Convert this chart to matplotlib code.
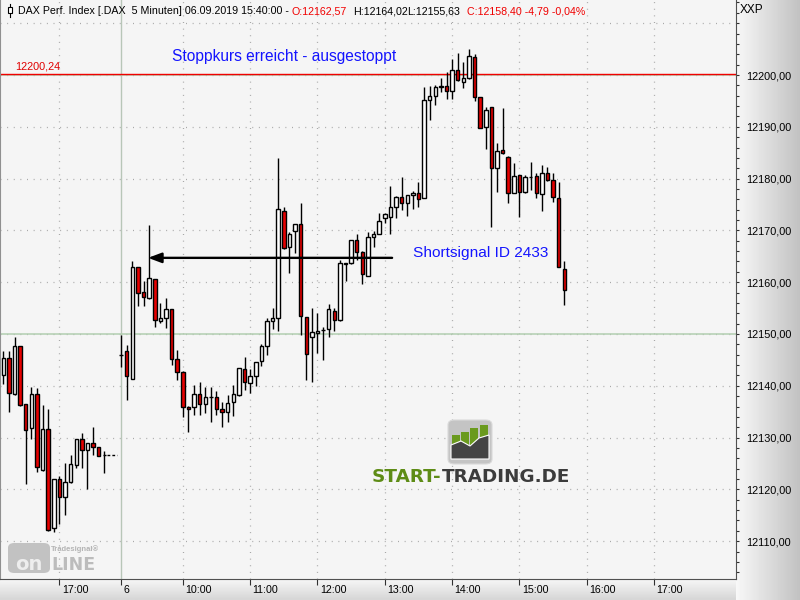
import numpy as np
import matplotlib.pyplot as plt
from matplotlib.patches import Rectangle, FancyBboxPatch
from matplotlib.transforms import ScaledTranslation

plt.rcParams['font.family'] = ['Liberation Sans', 'DejaVu Sans']

# DAX 5-Minuten-Kerzen, Vortag (Slots 0..18) und 06.09.2019 (ab Slot 21)
slots = list(range(0, 19)) + list(range(21, 101))

opens = [12142.1, 12145.3, 12138.5, 12147.7, 12136.4, 12131.8, 12138.5, 12123.7, 12131.7, 12112.5,
         12122.1, 12118.6, 12121.5, 12124.7, 12129.7, 12127.7, 12128.9, 12128.1, 12126.6,
         12145.9, 12146.8, 12141.4, 12162.9, 12158.2, 12156.9, 12160.6, 12152.6, 12153.0, 12154.8,
         12145.1, 12142.7, 12136.0, 12135.9, 12138.4, 12136.4, 12137.8, 12137.8, 12135.5, 12135.0,
         12136.9, 12138.2, 12143.2, 12140.6, 12141.8, 12144.7, 12147.7, 12152.5, 12153.0, 12173.8,
         12166.7, 12169.9, 12171.2, 12153.2, 12149.4, 12150.1, 12150.7, 12150.9, 12154.5, 12152.7,
         12163.6, 12163.7, 12168.2, 12165.9, 12161.2, 12168.8, 12169.4, 12172.3, 12172.6, 12174.6,
         12176.5, 12175.2, 12176.9, 12177.3, 12176.3, 12195.2, 12195.9, 12197.6, 12197.9, 12197.0,
         12201.0, 12198.7, 12199.4, 12203.4, 12195.7, 12189.9, 12193.8, 12182.0, 12185.5, 12184.2,
         12177.3, 12180.6, 12177.5, 12180.4, 12180.5, 12177.0, 12181.0, 12179.7, 12176.2, 12162.57]
highs = [12146.7, 12146.7, 12149.5, 12147.7, 12136.4, 12139.8, 12139.5, 12136.3, 12135.5, 12122.1,
         12122.5, 12125.0, 12126.6, 12129.8, 12130.9, 12129.0, 12132.0, 12128.2, 12127.4,
         12149.8, 12147.9, 12164.0, 12163.0, 12160.2, 12171.0, 12160.7, 12155.9, 12156.9, 12154.9,
         12146.9, 12142.8, 12136.1, 12140.2, 12140.7, 12139.8, 12139.8, 12138.9, 12136.9, 12138.2,
         12140.2, 12143.5, 12145.6, 12143.2, 12144.6, 12148.1, 12153.0, 12155.0, 12184.0, 12174.5,
         12169.7, 12171.3, 12175.2, 12153.3, 12155.0, 12154.0, 12151.4, 12155.8, 12155.0, 12164.3,
         12163.8, 12168.2, 12169.3, 12166.0, 12169.6, 12169.9, 12173.3, 12173.4, 12178.6, 12176.6,
         12180.4, 12176.9, 12177.6, 12179.4, 12197.7, 12197.9, 12198.1, 12199.4, 12200.6, 12203.0,
         12204.3, 12202.6, 12205.0, 12204.1, 12195.8, 12193.8, 12193.9, 12186.8, 12193.6, 12184.3,
         12183.0, 12180.7, 12180.7, 12183.3, 12181.1, 12182.6, 12182.3, 12181.0, 12179.4, 12164.02]
lows = [12140.3, 12135.0, 12138.3, 12136.1, 12121.0, 12129.8, 12123.4, 12123.5, 12112.0, 12111.7,
        12113.3, 12115.1, 12121.3, 12124.1, 12124.1, 12120.1, 12126.6, 12126.4, 12123.2,
        12143.6, 12137.3, 12141.3, 12155.4, 12155.4, 12156.8, 12151.3, 12152.2, 12151.1, 12144.0,
        12141.1, 12134.0, 12131.1, 12134.4, 12134.4, 12134.7, 12133.1, 12134.4, 12132.1, 12133.1,
        12134.2, 12138.1, 12139.2, 12138.6, 12140.0, 12143.8, 12146.0, 12150.9, 12150.6, 12166.5,
        12161.8, 12165.7, 12149.8, 12141.1, 12140.8, 12146.3, 12145.0, 12149.4, 12150.6, 12152.6,
        12160.3, 12163.6, 12164.3, 12159.7, 12161.1, 12166.7, 12169.3, 12171.4, 12169.4, 12172.3,
        12174.0, 12172.8, 12174.1, 12174.6, 12176.2, 12191.3, 12194.2, 12196.8, 12195.3, 12195.3,
        12198.9, 12197.4, 12199.3, 12194.9, 12189.7, 12185.7, 12170.6, 12177.5, 12184.8, 12175.2,
        12177.2, 12172.6, 12177.3, 12177.8, 12176.2, 12173.8, 12179.6, 12175.5, 12162.9, 12155.63]
closes = [12145.3, 12138.7, 12147.7, 12136.3, 12131.5, 12138.5, 12124.3, 12131.7, 12112.2, 12122.0,
          12118.6, 12121.4, 12124.9, 12129.7, 12127.7, 12128.9, 12128.2, 12126.5, 12126.6,
          12146.0, 12141.9, 12162.9, 12157.9, 12157.1, 12160.8, 12152.7, 12153.0, 12154.8, 12145.1,
          12142.7, 12136.0, 12135.6, 12138.4, 12136.4, 12137.9, 12137.9, 12135.5, 12135.0, 12136.7,
          12138.4, 12143.4, 12140.8, 12141.8, 12144.5, 12147.7, 12152.5, 12153.0, 12174.1, 12166.6,
          12169.3, 12171.2, 12153.5, 12146.1, 12150.3, 12150.6, 12150.8, 12154.8, 12152.7, 12163.7,
          12163.7, 12168.2, 12165.8, 12161.5, 12168.8, 12169.4, 12171.9, 12173.1, 12174.6, 12176.5,
          12175.2, 12176.8, 12177.2, 12176.0, 12195.2, 12195.9, 12197.6, 12197.9, 12197.0, 12201.0,
          12199.0, 12199.4, 12203.7, 12195.7, 12189.8, 12193.2, 12182.0, 12185.4, 12184.9, 12177.3,
          12180.5, 12177.5, 12180.3, 12180.4, 12177.2, 12181.0, 12179.7, 12176.5, 12163.0, 12158.40]

tick_slots = [10, 21, 32, 44, 56, 68, 80, 92, 104, 116]
tick_labels = ['17:00', '6', '10:00', '11:00', '12:00', '13:00', '14:00', '15:00', '16:00', '17:00']
price_ticks = list(range(12110, 12211, 10))

stop_level = 12200.24
signal_level = 12164.7
signal_from, signal_to = 69.3, 25.8
prev_close_level = 12126.6


def fx(px):
    return px / 800


def fy(py):
    return 1 - py / 600


fig = plt.figure(figsize=(8, 6), dpi=100)
fig.patch.set_facecolor('#f2f2f2')

# Verlauf rechts (Preisachse) und unten (Zeitachse)
ax_r = fig.add_axes([fx(736), 0, fx(64), 1], zorder=0)
ax_r.imshow(np.linspace(0.97, 0.76, 64)[None, :], cmap='gray', vmin=0, vmax=1,
            aspect='auto', extent=(0, 1, 0, 1))
ax_r.axis('off')
ax_b = fig.add_axes([0, 0, fx(736), 21 / 600], zorder=0)
ax_b.imshow(np.linspace(0.97, 0.84, 21)[:, None], cmap='gray', vmin=0, vmax=1,
            aspect='auto', extent=(0, 1, 0, 1))
ax_b.axis('off')

ax = fig.add_axes([0, 21 / 600, fx(736), 579 / 600], zorder=3)
ax.set_facecolor('#f5f5f5')
ax.set_xlim(-0.59, 130.6)
ax.set_ylim(12102.7, 12214.48)

# Raster
for s in tick_slots:
    if s != 21:
        ax.axvline(s, color='#a8a8a8', lw=0.9, ls=(0, (0.8, 4.5)), zorder=1)
for v in price_ticks:
    ax.axhline(v, color='#a8a8a8', lw=0.9, ls=(0, (0.8, 4.5)), zorder=1)
ax.axvline(21, color='#b8c6b8', lw=1, zorder=1)
ax.axhline(12150, color='#b2ceb0', lw=1.1, zorder=1.5)
ax.axhline(12200, color='#b2ceb0', lw=1.1, zorder=1.5)
ax.axhline(stop_level, color='#f00000', lw=1, zorder=1.6)

# Kerzen
x = np.array(slots)
o = np.array(opens)
h = np.array(highs)
l = np.array(lows)
c = np.array(closes)
up = c >= o
ax.vlines(x, l, h, color='black', lw=1, zorder=3)
ax.bar(x[up], c[up] - o[up], bottom=o[up], width=0.62, color='white',
       edgecolor='black', linewidth=1, zorder=4)
ax.bar(x[~up], o[~up] - c[~up], bottom=c[~up], width=0.62, color='#e60000',
       edgecolor='black', linewidth=1, zorder=4)
ax.hlines(prev_close_level, 18.45, 20.3, color='black', lw=1, ls=(0, (2, 1.5)), zorder=3)

# Signal-Pfeil und Texte
ax.annotate('', xy=(signal_to, signal_level), xytext=(signal_from, signal_level),
            arrowprops=dict(arrowstyle='-|>,head_length=0.8,head_width=0.3', color='black',
                            lw=1.7, mutation_scale=10, shrinkA=0, shrinkB=0), zorder=5)
ax.text(73.0, 12165.6, 'Shortsignal ID 2433', color='#1414ff', fontsize=11.1,
        ha='left', va='center', zorder=6)
ax.text(30.1, 12203.5, 'Stoppkurs erreicht - ausgestoppt', color='#1414ff', fontsize=11.2,
        ha='left', va='center', zorder=6)
ax.text(2.1, 12201.6, '12200,24', color='#e00000', fontsize=7.8, ha='left', va='center', zorder=6)

# Achsen
ax.spines['top'].set_visible(False)
ax.spines['left'].set_color('#909090')
ax.spines['bottom'].set_color('#505050')
ax.spines['right'].set_color('#505050')
ax.yaxis.tick_right()
ax.set_yticks(price_ticks)
ax.set_yticklabels([f'{v:.2f}'.replace('.', ',') if v < 12210 else '' for v in price_ticks])
ax.set_yticks(np.arange(12104, 12215, 2), minor=True)
ax.tick_params(axis='y', which='both', direction='out', length=2.5, width=0.8,
               pad=5, labelsize=7.8, color='#303030')
ax.set_xticks(tick_slots)
ax.set_xticklabels(tick_labels)
ax.tick_params(axis='x', direction='out', length=4, width=0.8, pad=0.5,
               labelsize=7.7, color='#303030')
for lab in ax.get_xticklabels():
    lab.set_horizontalalignment('left')
    lab.set_transform(lab.get_transform() + ScaledTranslation(2.5 / 100, 0, fig.dpi_scale_trans))

fig.text(fx(740), fy(10), 'XXP', fontsize=8.5, va='center', ha='left', zorder=5)

# Titelzeile
title_parts = [(18, 'DAX Perf. Index [.DAX  5 Minuten] 06.09.2019 15:40:00 -', 'black'),
               (292, 'O:12162,57', '#f00000'),
               (353, 'H:12164,02', 'black'),
               (407, 'L:12155,63', 'black'),
               (467, 'C:12158,40 -4,79 -0,04%', '#f00000')]
for px, txt, col in title_parts:
    fig.text(fx(px), fy(11), txt, color=col, fontsize=7.7, va='center', ha='left', zorder=6)
fig.add_artist(plt.Line2D([fx(10), fx(10)], [fy(4), fy(17)], color='black', lw=0.8, zorder=6))
fig.add_artist(Rectangle((fx(8), fy(13)), fx(4), 6 / 600, facecolor='white',
                         edgecolor='black', lw=0.8, zorder=6))

# Logo START-TRADING.DE
fig.add_artist(FancyBboxPatch((fx(448), fy(464)), fx(44), 44 / 600,
                              boxstyle='round,pad=0,rounding_size=0.008',
                              facecolor='#c4c4c4', edgecolor='#dadada', lw=0.8, zorder=6))
for bx, top in zip([452, 461, 470, 480], [435, 432, 428, 425]):
    fig.add_artist(Rectangle((fx(bx), fy(458)), fx(8), (458 - top) / 600,
                             facecolor='#6a9a1e', edgecolor='none', zorder=6))
fig.add_artist(plt.Polygon([(fx(451), fy(459)), (fx(451), fy(445)), (fx(461), fy(441)),
                            (fx(470), fy(446)), (fx(479), fy(438)), (fx(489), fy(435)),
                            (fx(489), fy(459))], closed=True, facecolor='#444444',
                           edgecolor='white', lw=0.8, zorder=6.5))
t1 = fig.text(fx(372), fy(477), 'START-', color='#5e8c16', fontsize=13.2,
              fontweight='bold', family='DejaVu Sans', va='center', ha='left', zorder=6)
fig.canvas.draw()
bb = t1.get_window_extent()
fig.text(bb.x1 / fig.bbox.width, fy(477), 'TRADING.DE', color='#3c3c3c', fontsize=13.2,
         fontweight='bold', family='DejaVu Sans', va='center', ha='left', zorder=6)

# Logo Tradesignal online
fig.add_artist(FancyBboxPatch((fx(8), fy(573)), fx(42), 30 / 600,
                              boxstyle='round,pad=0,rounding_size=0.008',
                              facecolor='#c2c2c2', edgecolor='none', zorder=6))
fig.text(fx(29), fy(564), 'on', color='#eeeeee', fontsize=14, fontweight='bold',
         family='DejaVu Sans', ha='center', va='center', zorder=6.5)
fig.text(fx(51), fy(565), 'LINE', color='#bcbcbc', fontsize=12.5, fontweight='bold',
         family='DejaVu Sans', ha='left', va='center', zorder=6.5)
fig.text(fx(51), fy(549), 'Tradesignal®', color='#b4b4b4', fontsize=5.5, fontweight='bold',
         ha='left', va='center', zorder=6.5)

fig.savefig('out.png', dpi=100, facecolor=fig.get_facecolor())
